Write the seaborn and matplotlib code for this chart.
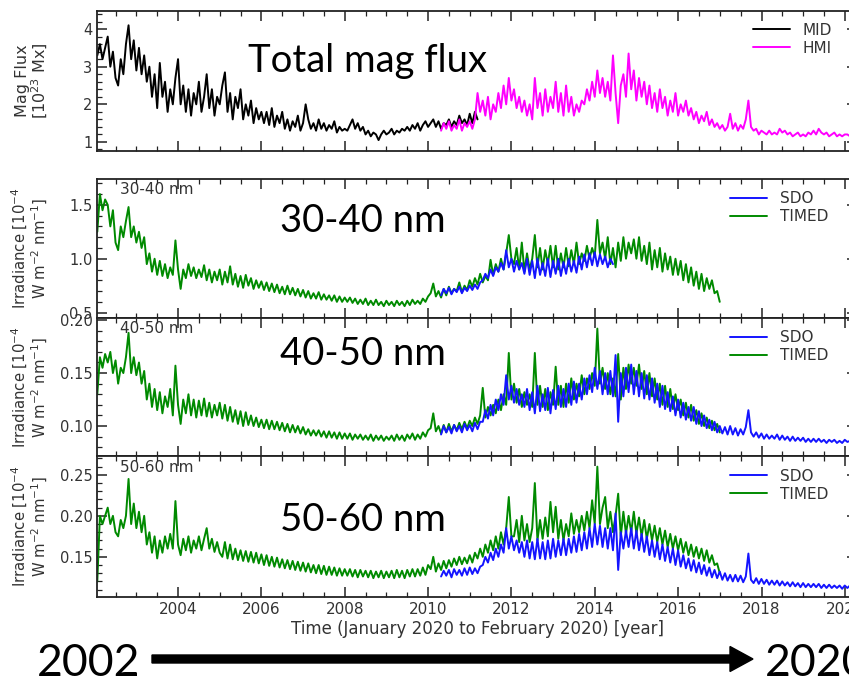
#! /usr/bin/env python3
# -*- coding: utf-8 -*-

import numpy as np
import pandas as pd
import seaborn as sns
import matplotlib
matplotlib.use('Agg')
import matplotlib.pyplot as plt
from matplotlib.ticker import MultipleLocator, FormatStrFormatter
from matplotlib.patches import FancyArrow


#######DATA (one row = one year, 16 samples/year)#######
step = 1/16
t0_early = 2002.06   # MID / TIMED start
t0_late = 2010.31    # HMI / SDO start

mid_flux = [3.3, 3.6, 3.2, 3.5, 3.8, 3.0, 3.4, 2.7, 2.5, 3.2, 2.8, 3.6, 4.1, 3.2, 3.7, 2.9,
            3.5, 2.8, 3.3, 2.6, 3.0, 2.2, 2.8, 1.9, 3.1, 2.2, 2.6, 1.8, 2.4, 2.0, 2.7, 3.2,
            2.0, 2.5, 1.8, 2.4, 1.7, 2.3, 2.0, 2.6, 1.8, 2.2, 2.8, 1.9, 2.4, 1.7, 2.2, 2.0,
            2.5, 2.85, 1.8, 2.3, 1.6, 2.2, 1.9, 2.4, 1.6, 2.0, 1.7, 2.1, 1.5, 1.9, 1.6, 1.8,
            1.5, 1.8, 1.45, 1.9, 1.4, 1.7, 1.5, 1.8, 1.35, 1.6, 1.3, 1.55, 1.4, 1.7, 1.3, 1.5,
            2.0, 1.6, 1.35, 1.5, 1.3, 1.6, 1.35, 1.5, 1.3, 1.45, 1.35, 1.55, 1.25, 1.4, 1.3, 1.35,
            1.3, 1.45, 1.6, 1.35, 1.5, 1.3, 1.4, 1.2, 1.3, 1.15, 1.25, 1.2, 1.05, 1.2, 1.3, 1.2,
            1.25, 1.35, 1.2, 1.3, 1.25, 1.35, 1.3, 1.4, 1.3, 1.45, 1.35, 1.5, 1.3, 1.45, 1.55, 1.4,
            1.5, 1.6, 1.4, 1.55, 1.35, 1.5, 1.45, 1.6, 1.4, 1.55, 1.45, 1.7, 1.5, 1.6, 1.45, 1.75,
            1.5, 1.8, 1.6]
hmi_flux = [1.3, 1.5, 1.35, 1.55, 1.3, 1.45, 1.35, 1.6, 1.3, 1.5, 1.4, 1.55, 1.35, 1.6, 2.3, 1.8,
            2.1, 1.7, 2.2, 1.6, 2.0, 1.8, 2.3, 1.9, 2.5, 2.0, 2.7, 2.1, 2.4, 1.9, 2.2, 1.8,
            2.1, 1.7, 2.0, 1.6, 2.7, 1.9, 2.3, 1.7, 2.4, 1.8, 2.2, 1.9, 2.6, 1.8, 2.3, 1.7,
            2.5, 1.8, 2.2, 1.7, 2.0, 1.8, 2.1, 2.0, 2.4, 2.1, 2.6, 2.2, 2.9, 2.3, 2.7, 2.2,
            2.6, 2.1, 3.3, 2.3, 1.5, 2.5, 2.8, 2.2, 3.35, 2.4, 2.9, 2.1, 2.7, 2.2, 2.6, 2.0,
            2.5, 1.9, 2.3, 1.8, 2.4, 1.9, 2.2, 1.7, 2.1, 1.8, 2.3, 1.7, 2.0, 1.8, 2.1, 1.7,
            1.9, 1.6, 1.8, 1.5, 1.7, 1.55, 1.8, 1.45, 1.6, 1.4, 1.5, 1.35, 1.45, 1.3, 1.4, 1.75,
            1.35, 1.5, 1.3, 1.45, 1.35, 1.6, 2.1, 1.4, 1.3, 1.35, 1.2, 1.3, 1.25, 1.2, 1.3, 1.2,
            1.25, 1.2, 1.35, 1.25, 1.3, 1.2, 1.25, 1.15, 1.2, 1.25, 1.15, 1.2, 1.15, 1.25, 1.2, 1.3,
            1.2, 1.35, 1.25, 1.2, 1.25, 1.15, 1.2, 1.25, 1.15, 1.2, 1.15, 1.2, 1.2, 1.15, 1.2, 1.2]

timed_30_40 = [1.25, 1.6, 1.45, 1.55, 1.5, 1.3, 1.45, 1.15, 1.08, 1.3, 1.2, 1.35, 1.48, 1.2, 1.3, 1.15,
               1.25, 1.1, 1.2, 0.95, 1.05, 0.88, 1.0, 0.85, 0.98, 0.84, 0.95, 0.82, 0.92, 0.85, 1.17, 0.9,
               0.72, 0.9, 0.82, 0.95, 0.84, 0.92, 0.82, 0.9, 0.83, 0.94, 0.8, 0.9, 0.78, 0.88, 0.8, 0.9,
               0.76, 0.88, 0.78, 0.93, 0.76, 0.86, 0.74, 0.84, 0.73, 0.85, 0.75, 0.82, 0.72, 0.8, 0.73, 0.79,
               0.71, 0.78, 0.7, 0.77, 0.69, 0.76, 0.68, 0.74, 0.67, 0.75, 0.67, 0.73, 0.66, 0.72, 0.65, 0.71,
               0.64, 0.7, 0.63, 0.68, 0.63, 0.69, 0.62, 0.67, 0.62, 0.66, 0.61, 0.66, 0.6, 0.65, 0.6, 0.64,
               0.6, 0.64, 0.59, 0.63, 0.58, 0.62, 0.58, 0.63, 0.57, 0.61, 0.57, 0.62, 0.57, 0.6, 0.56, 0.61,
               0.57, 0.6, 0.56, 0.61, 0.57, 0.6, 0.56, 0.61, 0.57, 0.62, 0.58, 0.61, 0.58, 0.63, 0.6, 0.65,
               0.68, 0.77, 0.65, 0.7, 0.64, 0.72, 0.66, 0.74, 0.68, 0.72, 0.7, 0.78, 0.69, 0.75, 0.71, 0.8,
               0.74, 0.82, 0.76, 0.86, 0.78, 0.84, 0.8, 0.99, 0.85, 0.95, 0.88, 1.0, 0.9, 1.05, 1.22, 1.0,
               0.95, 1.1, 0.9, 1.15, 0.88, 1.05, 0.9, 1.0, 1.22, 0.92, 1.1, 0.9, 1.08, 0.95, 1.12, 0.92,
               1.12, 0.9, 1.05, 0.92, 1.1, 0.93, 1.08, 0.95, 1.15, 0.95, 1.05, 0.98, 1.12, 1.0, 1.1, 1.02,
               1.36, 1.05, 1.15, 1.0, 1.2, 0.95, 1.1, 0.92, 1.15, 0.98, 1.2, 1.0, 1.15, 1.05, 1.18, 1.0,
               1.2, 0.98, 1.12, 0.95, 1.15, 0.9, 1.08, 0.92, 1.1, 0.88, 1.05, 0.9, 1.02, 0.85, 1.0, 0.85,
               0.98, 0.8, 0.95, 0.78, 0.92, 0.75, 0.88, 0.72, 0.86, 0.7, 0.82, 0.72, 0.8, 0.68, 0.7, 0.6]
sdo_30_40 = [0.66, 0.72, 0.68, 0.73, 0.67, 0.72, 0.69, 0.74, 0.68, 0.73, 0.7, 0.75, 0.71, 0.76, 0.72, 0.78,
             0.8, 0.86, 0.82, 0.9, 0.84, 0.92, 0.88, 0.96, 0.9, 1.08, 0.92, 1.0, 0.88, 0.98, 0.9, 0.96,
             0.86, 1.0, 0.85, 0.98, 0.82, 1.0, 0.85, 0.96, 0.84, 1.0, 0.83, 0.98, 0.86, 1.0, 0.84, 0.97,
             0.86, 1.0, 0.88, 0.98, 0.87, 1.02, 0.9, 1.04, 0.92, 1.05, 0.94, 1.06, 0.93, 1.04, 0.95, 1.02,
             0.92, 1.0, 0.95]

timed_40_50 = [0.13, 0.165, 0.155, 0.168, 0.16, 0.17, 0.15, 0.162, 0.14, 0.155, 0.15, 0.165, 0.188, 0.15, 0.165, 0.148,
               0.16, 0.14, 0.152, 0.125, 0.14, 0.118, 0.135, 0.115, 0.132, 0.112, 0.128, 0.118, 0.135, 0.11, 0.157, 0.12,
               0.102, 0.125, 0.112, 0.13, 0.11, 0.125, 0.108, 0.124, 0.11, 0.126, 0.109, 0.122, 0.108, 0.12, 0.11, 0.122,
               0.107, 0.12, 0.105, 0.118, 0.104, 0.115, 0.102, 0.114, 0.1, 0.113, 0.101, 0.11, 0.1, 0.108, 0.099, 0.106,
               0.098, 0.106, 0.097, 0.105, 0.097, 0.104, 0.096, 0.103, 0.095, 0.102, 0.094, 0.101, 0.094, 0.1, 0.093, 0.099,
               0.092, 0.097, 0.091, 0.096, 0.091, 0.096, 0.09, 0.095, 0.089, 0.095, 0.089, 0.094, 0.088, 0.094, 0.088, 0.093,
               0.088, 0.093, 0.087, 0.092, 0.088, 0.092, 0.087, 0.091, 0.087, 0.092, 0.086, 0.091, 0.087, 0.091, 0.086, 0.09,
               0.087, 0.091, 0.086, 0.092, 0.087, 0.091, 0.086, 0.092, 0.088, 0.093, 0.087, 0.092, 0.088, 0.094, 0.09, 0.096,
               0.098, 0.112, 0.095, 0.1, 0.093, 0.101, 0.094, 0.102, 0.095, 0.101, 0.096, 0.103, 0.097, 0.104, 0.098, 0.105,
               0.1, 0.108, 0.102, 0.11, 0.136, 0.108, 0.118, 0.11, 0.12, 0.112, 0.125, 0.115, 0.13, 0.12, 0.169, 0.125,
               0.14, 0.122, 0.135, 0.118, 0.132, 0.12, 0.13, 0.118, 0.169, 0.12, 0.138, 0.118, 0.135, 0.115, 0.132, 0.12,
               0.156, 0.12, 0.138, 0.118, 0.14, 0.122, 0.145, 0.125, 0.14, 0.128, 0.148, 0.13, 0.145, 0.135, 0.15, 0.138,
               0.192, 0.14, 0.155, 0.135, 0.15, 0.13, 0.145, 0.128, 0.168, 0.125, 0.155, 0.135, 0.158, 0.14, 0.155, 0.138,
               0.158, 0.135, 0.152, 0.13, 0.15, 0.128, 0.145, 0.125, 0.14, 0.12, 0.138, 0.118, 0.135, 0.116, 0.13, 0.115,
               0.125, 0.11, 0.122, 0.108, 0.12, 0.105, 0.115, 0.102, 0.112, 0.1, 0.108, 0.098, 0.105, 0.096, 0.102, 0.094]
sdo_40_50 = [0.092, 0.1, 0.094, 0.099, 0.093, 0.101, 0.095, 0.1, 0.094, 0.102, 0.096, 0.101, 0.095, 0.103, 0.097, 0.104,
             0.104, 0.115, 0.107, 0.12, 0.11, 0.125, 0.115, 0.13, 0.12, 0.148, 0.125, 0.138, 0.122, 0.135, 0.12, 0.13,
             0.118, 0.135, 0.115, 0.132, 0.112, 0.138, 0.114, 0.13, 0.115, 0.136, 0.112, 0.134, 0.116, 0.138, 0.118, 0.135,
             0.118, 0.14, 0.12, 0.142, 0.122, 0.14, 0.125, 0.145, 0.13, 0.148, 0.132, 0.155, 0.135, 0.152, 0.13, 0.15,
             0.13, 0.152, 0.128, 0.167, 0.104, 0.15, 0.128, 0.155, 0.132, 0.158, 0.13, 0.152, 0.128, 0.15, 0.126, 0.148,
             0.125, 0.145, 0.122, 0.14, 0.118, 0.138, 0.116, 0.132, 0.114, 0.128, 0.11, 0.125, 0.108, 0.122, 0.106, 0.118,
             0.105, 0.118, 0.102, 0.114, 0.1, 0.11, 0.098, 0.106, 0.096, 0.104, 0.094, 0.1, 0.093, 0.099, 0.092, 0.1,
             0.092, 0.098, 0.091, 0.097, 0.092, 0.099, 0.115, 0.094, 0.09, 0.094, 0.089, 0.093, 0.088, 0.092, 0.088, 0.091,
             0.088, 0.092, 0.087, 0.091, 0.087, 0.09, 0.086, 0.09, 0.086, 0.089, 0.086, 0.089, 0.085, 0.088, 0.085, 0.088,
             0.085, 0.088, 0.085, 0.087, 0.084, 0.087, 0.085, 0.087, 0.084, 0.086, 0.084, 0.087, 0.085, 0.086, 0.084, 0.086]

timed_50_60 = [0.12, 0.2, 0.19, 0.2, 0.21, 0.19, 0.2, 0.18, 0.175, 0.195, 0.185, 0.2, 0.245, 0.19, 0.215, 0.185,
               0.205, 0.18, 0.2, 0.165, 0.18, 0.155, 0.175, 0.148, 0.17, 0.155, 0.175, 0.16, 0.178, 0.16, 0.218, 0.165,
               0.152, 0.172, 0.158, 0.175, 0.155, 0.17, 0.16, 0.175, 0.158, 0.172, 0.185, 0.16, 0.172, 0.156, 0.168, 0.155,
               0.15, 0.168, 0.148, 0.165, 0.147, 0.16, 0.146, 0.158, 0.145, 0.157, 0.144, 0.156, 0.143, 0.155, 0.142, 0.153,
               0.14, 0.152, 0.139, 0.15, 0.138, 0.149, 0.137, 0.147, 0.136, 0.146, 0.135, 0.145, 0.134, 0.144, 0.133, 0.143,
               0.132, 0.142, 0.131, 0.14, 0.13, 0.14, 0.129, 0.139, 0.128, 0.138, 0.128, 0.137, 0.127, 0.136, 0.127, 0.135,
               0.127, 0.135, 0.126, 0.134, 0.125, 0.134, 0.126, 0.133, 0.125, 0.133, 0.124, 0.132, 0.125, 0.133, 0.124, 0.132,
               0.125, 0.133, 0.124, 0.134, 0.125, 0.133, 0.124, 0.134, 0.126, 0.135, 0.126, 0.135, 0.127, 0.137, 0.128, 0.14,
               0.135, 0.15, 0.132, 0.142, 0.134, 0.145, 0.136, 0.146, 0.138, 0.148, 0.14, 0.15, 0.141, 0.149, 0.142, 0.152,
               0.143, 0.155, 0.148, 0.16, 0.15, 0.165, 0.155, 0.17, 0.158, 0.175, 0.16, 0.18, 0.165, 0.185, 0.223, 0.175,
               0.175, 0.195, 0.168, 0.2, 0.17, 0.19, 0.168, 0.185, 0.24, 0.17, 0.195, 0.172, 0.198, 0.175, 0.217, 0.18,
               0.211, 0.172, 0.195, 0.17, 0.19, 0.175, 0.203, 0.178, 0.195, 0.18, 0.2, 0.182, 0.205, 0.185, 0.219, 0.19,
               0.26, 0.19, 0.21, 0.223, 0.185, 0.205, 0.18, 0.2, 0.227, 0.175, 0.205, 0.178, 0.2, 0.18, 0.205, 0.178,
               0.198, 0.175, 0.195, 0.172, 0.19, 0.17, 0.188, 0.168, 0.185, 0.165, 0.182, 0.162, 0.178, 0.16, 0.175, 0.158,
               0.172, 0.155, 0.168, 0.152, 0.165, 0.15, 0.162, 0.148, 0.16, 0.145, 0.158, 0.143, 0.152, 0.14, 0.142, 0.13]
sdo_50_60 = [0.126, 0.133, 0.127, 0.134, 0.125, 0.135, 0.128, 0.134, 0.127, 0.136, 0.128, 0.137, 0.129, 0.136, 0.13, 0.138,
             0.14, 0.15, 0.143, 0.155, 0.146, 0.16, 0.15, 0.165, 0.155, 0.185, 0.16, 0.175, 0.158, 0.17, 0.155, 0.168,
             0.15, 0.17, 0.148, 0.168, 0.147, 0.172, 0.148, 0.168, 0.147, 0.17, 0.148, 0.172, 0.15, 0.17, 0.152, 0.172,
             0.152, 0.172, 0.155, 0.175, 0.156, 0.178, 0.158, 0.18, 0.16, 0.185, 0.162, 0.19, 0.165, 0.188, 0.162, 0.185,
             0.16, 0.185, 0.158, 0.203, 0.134, 0.18, 0.16, 0.182, 0.162, 0.185, 0.16, 0.182, 0.158, 0.178, 0.156, 0.175,
             0.152, 0.17, 0.15, 0.168, 0.147, 0.165, 0.145, 0.162, 0.143, 0.16, 0.14, 0.158, 0.138, 0.152, 0.136, 0.148,
             0.133, 0.146, 0.131, 0.143, 0.129, 0.14, 0.127, 0.137, 0.125, 0.134, 0.124, 0.132, 0.122, 0.13, 0.121, 0.128,
             0.12, 0.128, 0.12, 0.127, 0.119, 0.126, 0.154, 0.122, 0.118, 0.124, 0.117, 0.123, 0.117, 0.122, 0.116, 0.121,
             0.116, 0.121, 0.115, 0.12, 0.115, 0.119, 0.114, 0.119, 0.114, 0.118, 0.113, 0.118, 0.113, 0.117, 0.113, 0.117,
             0.113, 0.117, 0.112, 0.116, 0.112, 0.116, 0.112, 0.115, 0.112, 0.115, 0.111, 0.115, 0.112, 0.115, 0.111, 0.115]

year_ticks = [2004, 2006, 2008, 2010, 2012, 2014, 2016, 2018, 2020]
band_labels = ['30-40 nm', '40-50 nm', '50-60 nm']
big_labels = ['Total mag flux', '30-40 nm', '40-50 nm', '50-60 nm']


#######FUNCTIONS#######
def to_frame(t0, vals):
    '''Put a read-off series on its time axis'''
    return pd.DataFrame({'year': t0 + step*np.arange(len(vals)), 'val': vals})


def style_axis(ax, ylim, ymaj, ymin, fmt, show_x):
    '''IDL-like inward ticks on all sides'''
    ax.set_xlim(2002.06, 2020.3)
    ax.set_ylim(*ylim)
    ax.xaxis.set_major_locator(MultipleLocator(2))
    ax.xaxis.set_minor_locator(MultipleLocator(0.5))
    ax.yaxis.set_major_locator(MultipleLocator(ymaj))
    ax.yaxis.set_minor_locator(MultipleLocator(ymin))
    ax.yaxis.set_major_formatter(FormatStrFormatter(fmt))
    ax.tick_params(which='both', direction='in', top=True, right=True,
                   colors='#222222', labelcolor='#333333', labelsize=10.5)
    ax.tick_params(which='major', length=7, width=1.1)
    ax.tick_params(which='minor', length=3.5, width=0.9)
    if not show_x:
        ax.tick_params(axis='x', labelbottom=False)
    for s in ax.spines.values():
        s.set_linewidth(1.3)
        s.set_color('#222222')
    ax.set_xlabel('')
    ax.set_ylabel('')


def legend(ax, names, colors, x, y):
    handles = [plt.Line2D([], [], color=c, lw=1.4) for c in colors]
    ax.legend(handles, names, loc='upper left', bbox_to_anchor=(x, y),
              frameon=False, borderpad=0, borderaxespad=0, handlelength=2.4,
              handletextpad=0.85, labelspacing=0.2, fontsize=11,
              labelcolor='#333333')


###########MAIN###########
sns.set_style('ticks')
plt.rcParams['font.family'] = ['DejaVu Sans']
plt.rcParams['mathtext.fontset'] = 'dejavusans'

W, H = 849, 681
fig = plt.figure(figsize=(W/100, H/100), dpi=100)
left = 97.3/W
width = (2020.3 - 2002.06)*41.67/W
# panel (top px, bottom px)
boxes = [(11, 151), (179, 318), (318, 456), (456, 597)]
axes = [fig.add_axes([left, 1 - b/H, width, (b - t)/H]) for t, b in boxes]

green = '#008a00'
blue = '#1414ff'
lw = 1.4

#Magnetic flux
ax = axes[0]
sns.lineplot(data=to_frame(t0_early, mid_flux), x='year', y='val', ax=ax,
             color='black', lw=lw)
sns.lineplot(data=to_frame(t0_late, hmi_flux), x='year', y='val', ax=ax,
             color='#ff00ff', lw=lw)
style_axis(ax, (0.76, 4.48), 1, 0.2, '%d', False)
ax.set_ylabel('Mag Flux\n[10$^{23}$ Mx]', fontsize=11.5, color='#333333',
              linespacing=1.0)
ax.yaxis.set_label_coords(-0.062, 0.5)
legend(ax, ['MID', 'HMI'], ['black', '#ff00ff'], 0.863, 0.917)

#EUV bands
bands = [(timed_30_40, sdo_30_40, (0.45, 1.74), 0.5, 0.1, '%.1f'),
         (timed_40_50, sdo_40_50, (0.0717, 0.202), 0.05, 0.01, '%.2f'),
         (timed_50_60, sdo_50_60, (0.101, 0.273), 0.05, 0.01, '%.2f')]
for i, (timed, sdo, ylim, ymaj, ymin, fmt) in enumerate(bands):
    ax = axes[i + 1]
    sns.lineplot(data=to_frame(t0_early, timed), x='year', y='val', ax=ax,
                 color=green, lw=lw, zorder=2)
    sns.lineplot(data=to_frame(t0_late, sdo), x='year', y='val', ax=ax,
                 color=blue, lw=lw, zorder=3)
    style_axis(ax, ylim, ymaj, ymin, fmt, i == 2)
    ax.set_ylabel('Irradiance [10$^{-4}$\nW m$^{-2}$ nm$^{-1}$]', fontsize=10.7,
                  color='#333333', linespacing=1.0)
    ax.yaxis.set_label_coords(-0.062, 0.5)
    ax.text(0.03, 0.975, band_labels[i], transform=ax.transAxes, ha='left',
            va='top', fontsize=11, color='#333333')
    legend(ax, ['SDO', 'TIMED'], [blue, green], 0.8325, 0.911)

axes[3].set_xticks(year_ticks)
axes[3].set_xticklabels([str(y) for y in year_ticks])
axes[3].tick_params(axis='x', labelsize=11)
axes[3].set_xlabel('Time (January 2020 to February 2020) [year]', fontsize=12,
                   color='#333333', labelpad=2)

#Overlay annotations
big = dict(family=['Lato', 'DejaVu Sans'], fontsize=27.5, color='black',
           ha='left', va='baseline')
for lab, (x, y) in zip(big_labels, [(248, 71.7), (280, 232), (280, 365), (280, 530.7)]):
    fig.text(x/W, 1 - y/H, lab, **big)

fig.text(37/W, 1 - 676/H, '2002', family=['Lato', 'DejaVu Sans'], fontsize=32,
         color='black', ha='left', va='baseline')
fig.text(765/W, 1 - 676/H, '2020', family=['Lato', 'DejaVu Sans'], fontsize=32,
         color='black', ha='left', va='baseline')
fig.add_artist(FancyArrow(152/W, 1 - 659/H, (730 - 152)/W, 0, width=8/H,
                          head_width=25/H, head_length=23/W,
                          length_includes_head=False, color='black',
                          transform=fig.transFigure))

plt.savefig('out.png', dpi=100)
plt.close()
